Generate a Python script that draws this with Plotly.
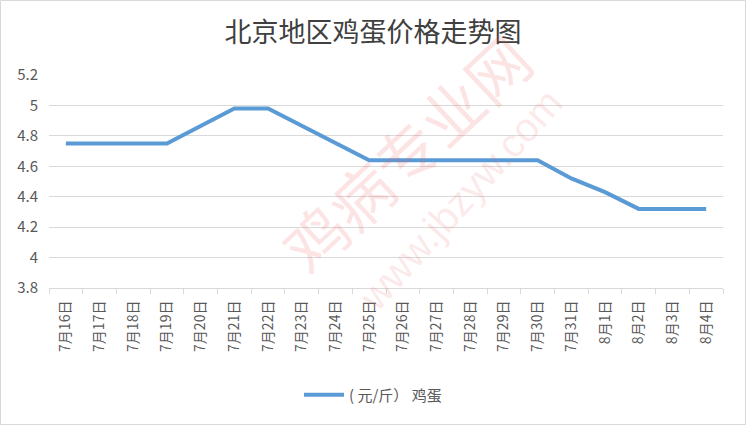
import plotly.graph_objects as go

categories = ["7月16日", "7月17日", "7月18日", "7月19日", "7月20日", "7月21日", "7月22日",
              "7月23日", "7月24日", "7月25日", "7月26日", "7月27日", "7月28日", "7月29日",
              "7月30日", "7月31日", "8月1日", "8月2日", "8月3日", "8月4日"]
egg_prices = [4.75, 4.75, 4.75, 4.75, 4.865, 4.98, 4.98, 4.865, 4.75, 4.64, 4.64, 4.64,
              4.64, 4.64, 4.64, 4.52, 4.43, 4.32, 4.32, 4.32]
y_tickvals = [3.8, 4.0, 4.2, 4.4, 4.6, 4.8, 5.0, 5.2]
y_ticktext = ["3.8", "4", "4.2", "4.4", "4.6", "4.8", "5", "5.2"]
series_name = "( 元/斤） 鸡蛋"
title_text = "北京地区鸡蛋价格走势图"

W, H = 746, 425
L, R, T, B = 49, 23, 75, 137
pw, ph = W - L - R, H - T - B

FONT = "Noto Sans CJK SC, Noto Sans, sans-serif"

fig = go.Figure()
fig.add_trace(go.Scatter(
    x=categories, y=egg_prices, mode="lines", name=series_name,
    line=dict(color="#5b9bd5", width=4), showlegend=True,
))

def px_to_paper(x, y):
    return (x - L) / pw, (H - B - y) / ph

annotations = []
# watermark
wx, wy = px_to_paper(405, 152)
annotations.append(dict(text="鸡病专业网", x=wx, y=wy, xref="paper", yref="paper",
                        showarrow=False, textangle=-43,
                        font=dict(size=62, color="rgba(235,90,90,0.16)", family=FONT)))
wx2, wy2 = px_to_paper(460, 200)
annotations.append(dict(text="www.jbzyw.com", x=wx2, y=wy2, xref="paper", yref="paper",
                        showarrow=False, textangle=-48,
                        font=dict(size=40, color="rgba(235,90,90,0.14)", family="Liberation Sans, sans-serif")))

x0, y0 = px_to_paper(0.5, 424.5)
x1, y1 = px_to_paper(745.5, 0.5)

fig.update_layout(
    width=W, height=H,
    margin=dict(l=L, r=R, t=T, b=B, autoexpand=False),
    paper_bgcolor="white", plot_bgcolor="white",
    font=dict(family=FONT, color="#595959", size=14),
    title=dict(text=title_text, x=0.5, xref="container", xanchor="center",
               y=1 - 33 / H, yref="container", yanchor="middle",
               font=dict(size=27, color="#404040", family=FONT)),
    xaxis=dict(type="category", range=[-0.5, len(categories) - 0.5],
               showgrid=False, showline=True, linecolor="#d9d9d9",
               linewidth=1, ticks="outside", tickson="boundaries", ticklen=5,
               tickcolor="#d9d9d9", tickangle=-90, tickfont=dict(size=14, color="#595959"),
               ticklabelstandoff=6, zeroline=False, fixedrange=True),
    yaxis=dict(range=[3.8, 5.2], tickvals=y_tickvals, ticktext=y_ticktext,
               showgrid=True, gridcolor="#d9d9d9", gridwidth=1, showline=False,
               zeroline=False, ticks="", tickfont=dict(size=15, color="#595959"),
               ticklabelstandoff=10, fixedrange=True),
    legend=dict(orientation="h", x=0.5, xanchor="center", xref="container",
                y=1 - 395 / H, yref="container", yanchor="middle",
                font=dict(size=15, color="#595959"), itemwidth=40),
    annotations=annotations,
    shapes=[dict(type="rect", xref="paper", yref="paper", x0=x0, y0=y0, x1=x1, y1=y1,
                 line=dict(color="#d9d9d9", width=1), layer="below")],
    showlegend=True,
)

fig.write_html("out.html", config={"displayModeBar": False},
               post_script="document.body.style.margin='0';document.body.style.padding='0';")
